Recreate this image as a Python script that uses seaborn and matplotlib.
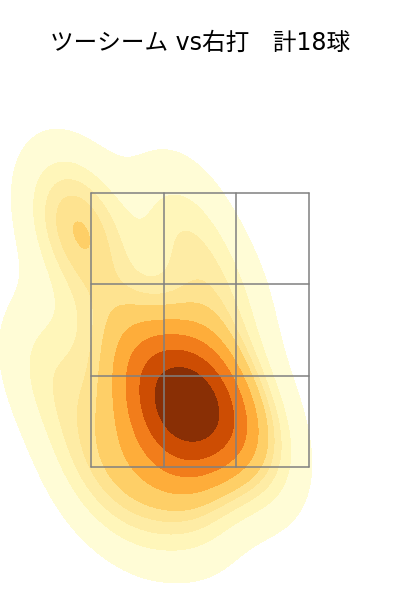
import numpy as np
import matplotlib
matplotlib.use("Agg")
import matplotlib.pyplot as plt
import seaborn as sns

# pitch locations (ft), catcher view: horizontal / height
plate_x = [-0.305, -0.114, 0.076, -0.19, 0.0, -0.457, 0.228, -0.114,
           -0.96, -0.914, -0.152, 0.152, -1.142, -0.838, -0.495, -0.114, 0.419, -0.609]
plate_z = [2.06, 2.02, 2.06, 1.87, 1.87, 1.94, 1.94, 2.21,
           3.38, 3.33, 3.36, 2.78, 2.25, 1.56, 1.30, 1.30, 1.68, 2.55]

zone_x = [-0.83, -0.277, 0.277, 0.83]
zone_z = [1.5, 2.2, 2.9, 3.6]

title = "ツーシーム vs右打　計18球"

sns.set_style("white")
plt.rcParams["font.family"] = ["DejaVu Sans", "Noto Sans CJK JP"]

fig = plt.figure(figsize=(4, 6), dpi=100, facecolor="white")
ax = fig.add_axes([0, 0, 1, 520 / 600])

sns.kdeplot(x=plate_x, y=plate_z, fill=True, cmap="YlOrBr",
            levels=10, thresh=0.05, ax=ax)

# strike zone 3x3
for gx in zone_x:
    ax.plot([gx, gx], [zone_z[0], zone_z[-1]], color="#808080", lw=1.1)
for gz in zone_z:
    ax.plot([zone_x[0], zone_x[-1]], [gz, gz], color="#808080", lw=1.1)

ax.set_xlim(-1.523, 1.523)
ax.set_ylim(0.485, 4.463)
ax.axis("off")

fig.text(0.5, 1 - 43 / 600, title, ha="center", va="center",
         fontsize=17, color="black")

fig.savefig("out.png", dpi=100, facecolor="white")
